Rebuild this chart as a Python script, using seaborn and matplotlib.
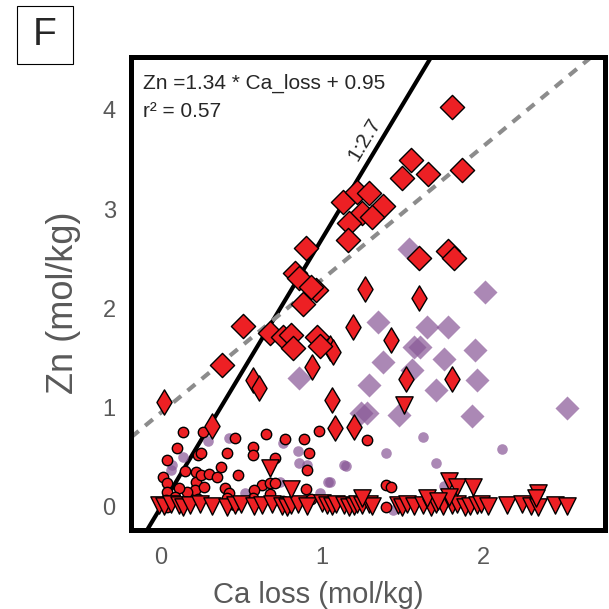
import numpy as np
import pandas as pd
import matplotlib
matplotlib.use("Agg")
import matplotlib.pyplot as plt
from matplotlib.patches import Rectangle
import seaborn as sns

# ---- data (Ca loss vs Zn, mol/kg) ----
# large red diamonds
dia_x = [1.81, 1.55, 1.50, 1.66, 1.87, 1.13, 1.22, 1.29, 1.38, 1.25, 1.31, 1.17,
         1.16, 0.90, 1.78, 1.82, 1.60, 0.83, 0.86, 0.96, 0.93, 0.88, 0.51, 0.68,
         0.76, 0.81, 0.82, 0.97, 0.99, 0.38]
dia_y = [4.03, 3.49, 3.31, 3.35, 3.39, 3.07, 3.17, 3.16, 3.03, 2.96, 2.92, 2.86,
         2.69, 2.61, 2.58, 2.51, 2.51, 2.36, 2.31, 2.19, 2.22, 2.04, 1.82, 1.75,
         1.71, 1.73, 1.60, 1.71, 1.62, 1.43]

# thin red diamonds
thin_x = [1.27, 1.60, 1.19, 1.43, 1.05, 1.07, 0.94, 0.57, 0.61, 1.52, 1.81,
          1.06, 0.02, 0.32, 1.08, 1.20]
thin_y = [2.20, 2.10, 1.81, 1.68, 1.60, 1.56, 1.41, 1.28, 1.20, 1.29, 1.29,
          1.08, 1.06, 0.82, 0.80, 0.81]

# red circles
circ_x = [0.14, 0.26, 0.10, 0.04, 0.15, 0.01, 0.04, 0.04, 0.03, 0.01, 0.04,
          0.22, 0.22, 0.25, 0.30, 0.21, 0.27, 0.23, 0.16, 0.11, 0.09, 0.15,
          0.23, 0.25, 0.41, 0.37, 0.35, 0.40, 0.42, 0.41, 0.44, 0.46, 0.48,
          0.46, 0.65, 0.57, 0.57, 0.77, 0.89, 0.92, 0.71, 0.91, 0.63, 0.68,
          0.71, 0.90, 0.58, 0.57, 0.68, 0.76, 0.93, 0.98, 1.28, 1.40, 1.43,
          1.40]
circ_y = [0.76, 0.76, 0.59, 0.47, 0.36, 0.30, 0.24, 0.15, 0.07, 0.02, 0.00,
          0.35, 0.25, 0.32, 0.33, 0.17, 0.20, 0.08, 0.15, 0.19, 0.10, 0.04,
          0.52, 0.54, 0.54, 0.40, 0.30, 0.19, 0.14, 0.09, 0.03, 0.02, 0.32,
          0.69, 0.73, 0.60, 0.52, 0.68, 0.68, 0.54, 0.49, 0.37, 0.22, 0.24,
          0.24, 0.18, 0.17, 0.09, 0.13, 0.06, 0.08, 0.77, 0.67, 0.22, 0.20,
          0.00]

# red triangles
tri_x = [-0.01, 0.02, 0.06, 0.11, 0.14, 0.18, 0.24, 0.32, 0.41, 0.46, 0.50,
         0.58, 0.63, 0.69, 0.75, 0.78, 0.81, 0.85, 0.91, 1.00, 1.03, 1.06,
         1.09, 1.14, 1.17, 1.20, 1.22, 1.25, 1.29, 1.31, 1.47, 1.50, 1.53,
         1.57, 1.63, 1.68, 1.71, 1.75, 1.81, 1.84, 1.89, 1.92, 1.96, 1.99,
         2.03, 2.15, 2.24, 2.30, 2.34, 2.45, 2.52,
         0.68, 0.81, 1.51, 1.79, 1.84, 1.94, 2.34, 2.33, 1.65, 1.25, 1.79,
         1.72]
tri_y = [0.02, 0.01, 0.03, 0.02, 0.00, 0.02, 0.03, 0.01, 0.00, 0.02, 0.03,
         0.01, 0.02, 0.03, 0.01, 0.00, 0.02, 0.03, 0.01, 0.04, 0.02, 0.01,
         0.03, 0.02, 0.00, 0.01, 0.03, 0.02, 0.03, 0.01, 0.02, 0.00, 0.03,
         0.01, 0.02, 0.00, 0.03, 0.01, 0.02, 0.03, 0.00, 0.01, 0.02, 0.03,
         0.01, 0.02, 0.03, 0.01, 0.00, 0.02, 0.01,
         0.39, 0.18, 1.03, 0.26, 0.20, 0.20, 0.14, 0.09, 0.09, 0.09, 0.10,
         0.06]

# purple diamonds
pdia_x = [1.54, 2.01, 1.35, 1.65, 1.78, 1.57, 1.61, 1.95, 1.38, 1.56, 1.76,
          0.86, 1.29, 1.71, 1.96, 1.24, 1.28, 1.48, 1.93, 2.52]
pdia_y = [2.60, 2.17, 1.86, 1.81, 1.81, 1.61, 1.61, 1.58, 1.46, 1.38, 1.49,
          1.30, 1.23, 1.18, 1.28, 0.95, 0.95, 0.93, 0.92, 1.00]

# purple circles
pcirc_x = [0.29, 0.42, 0.14, 0.07, 0.85, 0.86, 0.91, 1.04, 0.52, 0.99, 0.74,
           0.76, 1.63, 1.40, 1.71, 2.12, 1.14, 1.15, 1.05, 1.76, 1.44, 0.06]
pcirc_y = [0.66, 0.69, 0.50, 0.42, 0.56, 0.44, 0.42, 0.25, 0.14, 0.14, 0.25,
           0.64, 0.70, 0.54, 0.44, 0.58, 0.42, 0.41, 0.25, 0.21, -0.03, 0.37]

# fitted line and reference line
fit_slope, fit_icpt = 1.34, 0.95
ref_slope = 2.7

x_ticks = [0, 1, 2]
y_ticks = [0, 1, 2, 3, 4]

RED = "#ed2024"
PURPLE = "#895897"

sns.set_style("white")
plt.rcParams["font.family"] = ["Liberation Sans", "DejaVu Sans"]

fig = plt.figure(figsize=(6.09, 6.09), dpi=100)
ax = fig.add_axes([131 / 609, 79 / 609, 474 / 609, 473 / 609])
ax.set_xlim(-0.186, 2.758)
ax.set_ylim(-0.232, 4.532)

# lines behind the markers
xs = np.array(ax.get_xlim())
ax.plot(xs, ref_slope * xs, color="black", lw=3.0, zorder=1,
        solid_capstyle="butt")
ax.plot(xs, fit_slope * xs + fit_icpt, color="#8c8c8c", lw=3.0,
        dashes=(2.4, 2.0), zorder=1)

# purple (background) series
sns.scatterplot(x=pdia_x, y=pdia_y, marker="D", s=150, color=PURPLE,
                alpha=0.71, linewidth=0, ax=ax, zorder=2)
sns.scatterplot(x=pcirc_x, y=pcirc_y, marker="o", s=58, color=PURPLE,
                alpha=0.71, linewidth=0, ax=ax, zorder=2)

# red series
kw = dict(color=RED, edgecolor="black", linewidth=1.0, ax=ax, zorder=3)
sns.scatterplot(x=circ_x, y=circ_y, marker="o", s=56, **kw)
sns.scatterplot(x=tri_x, y=tri_y, marker="v", s=155, **kw)
sns.scatterplot(x=thin_x, y=thin_y, marker="d", s=165, **kw)
sns.scatterplot(x=dia_x, y=dia_y, marker="D", s=152, **kw)

# frame
for sp in ax.spines.values():
    sp.set_visible(True)
    sp.set_linewidth(3.6)
    sp.set_color("black")
    sp.set_zorder(5)

ax.set_xticks(x_ticks)
ax.set_yticks(y_ticks)
ax.set_xticklabels([str(t) for t in x_ticks])
ax.set_yticklabels([str(t) for t in y_ticks])
ax.tick_params(axis="both", length=0, labelsize=17, colors="#595959")
ax.tick_params(axis="x", pad=12)
ax.tick_params(axis="y", pad=11)

ax.set_xlabel("Ca loss (mol/kg)", fontsize=21, color="#595959")
ax.xaxis.set_label_coords(0.395, -0.108)
ax.set_ylabel("Zn (mol/kg)", fontsize=26, color="#595959")
ax.yaxis.set_label_coords(-0.105, 0.48)

# annotations
ax.text(0.025, 0.945, "Zn =1.34 * Ca_loss + 0.95", transform=ax.transAxes,
        fontsize=15, ha="left", va="center")
ax.text(0.025, 0.885, "r\u00b2 = 0.57", transform=ax.transAxes,
        fontsize=15, ha="left", va="center")
ax.text(1.265, 3.70, "1:2.7", rotation=np.degrees(np.arctan(ref_slope)),
        transform_rotates_text=True, rotation_mode="anchor",
        ha="center", va="center", fontsize=15)

# panel letter
fig.add_artist(Rectangle((17 / 609, 1 - 64 / 609), 56 / 609, 58 / 609,
                         transform=fig.transFigure, fill=False,
                         lw=0.8, ec="black"))
fig.text(45 / 609, 1 - 35 / 609, "F", ha="center", va="center", fontsize=28)

fig.savefig("out.png", dpi=100)
